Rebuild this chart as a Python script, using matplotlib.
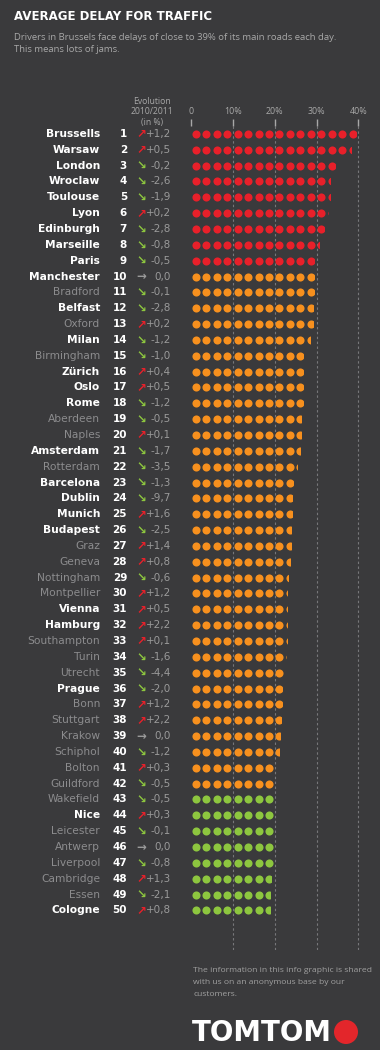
import math
import matplotlib
matplotlib.use("Agg")
import matplotlib.pyplot as plt
from matplotlib.patches import Rectangle, Circle
from matplotlib.transforms import blended_transform_factory

cities = ["Brussells", "Warsaw", "London", "Wroclaw", "Toulouse", "Lyon", "Edinburgh",
          "Marseille", "Paris", "Manchester", "Bradford", "Belfast", "Oxford", "Milan",
          "Birmingham", "Zürich", "Oslo", "Rome", "Aberdeen", "Naples", "Amsterdam",
          "Rotterdam", "Barcelona", "Dublin", "Munich", "Budapest", "Graz", "Geneva",
          "Nottingham", "Montpellier", "Vienna", "Hamburg", "Southampton", "Turin",
          "Utrecht", "Prague", "Bonn", "Stuttgart", "Krakow", "Schiphol", "Bolton",
          "Guildford", "Wakefield", "Nice", "Leicester", "Antwerp", "Liverpool",
          "Cambridge", "Essen", "Cologne"]
delay = [39.4, 38.2, 34.3, 33.2, 33.2, 32.7, 31.8, 30.6, 29.4, 29.4,
         29.4, 29.1, 29.1, 28.3, 26.8, 26.8, 26.8, 26.8, 26.3, 26.3,
         26.0, 25.2, 24.4, 24.2, 24.0, 23.8, 23.8, 23.6, 23.1, 23.0,
         22.8, 22.8, 22.8, 22.6, 22.0, 21.7, 21.7, 21.5, 21.2, 20.9,
         19.9, 19.6, 19.5, 19.5, 19.5, 19.5, 19.5, 19.2, 18.9, 18.9]
evolution = [1.2, 0.5, -0.2, -2.6, -1.9, 0.2, -2.8, -0.8, -0.5, 0.0,
             -0.1, -2.8, 0.2, -1.2, -1.0, 0.4, 0.5, -1.2, -0.5, 0.1,
             -1.7, -3.5, -1.3, -9.7, 1.6, -2.5, 1.4, 0.8, -0.6, 1.2,
             0.5, 2.2, 0.1, -1.6, -4.4, -2.0, 1.2, 2.2, 0.0, -1.2,
             0.3, -0.5, -0.5, 0.3, -0.1, 0.0, -0.8, 1.3, -2.1, 0.8]
highlight = ["Brussells", "Warsaw", "London", "Wroclaw", "Toulouse", "Lyon", "Edinburgh",
             "Marseille", "Paris", "Manchester", "Belfast", "Milan", "Zürich", "Oslo",
             "Rome", "Amsterdam", "Barcelona", "Dublin", "Munich", "Budapest", "Vienna",
             "Hamburg", "Prague", "Nice", "Cologne"]
group_sizes = [9, 33, 8]   # red, orange, green rows
ticks = [0, 10, 20, 30, 40]
tick_labels = ["0", "10%", "20%", "30%", "40%"]

bg = "#3a3a3c"
red = "#e8202a"
orange = "#f7901e"
green = "#8dc63f"
group_colors = [red, orange, green]

W, H = 380, 1050
fig = plt.figure(figsize=(W / 100, H / 100), dpi=100, facecolor=bg)

def fx(px):
    return px / W

def fy(py):
    return 1 - py / H

# dot chart area
ax = fig.add_axes([fx(180), fy(950), fx(372) - fx(180), (950 - 126) / H])
ax.set_facecolor("none")
ax.set_xlim(-2.68, 43.25)
ax.set_ylim(52.5, 0.5)
for s in ax.spines.values():
    s.set_visible(False)
ax.set_yticks([])
ax.xaxis.tick_top()
ax.set_xticks(ticks)
ax.set_xticklabels(tick_labels, family="Open Sans")
ax.tick_params(axis="x", colors="#a8a8a8", labelsize=6.4, length=5, width=1, pad=2)

ax.vlines(ticks[1:], 0.5, 52.5, colors="#77777a", linestyles=(0, (2.2, 2.2)),
          linewidth=0.8, zorder=1)

colors = []
for c, n in zip(group_colors, group_sizes):
    colors += [c] * n

ranks = list(range(1, len(cities) + 1))
for r, v, c in zip(ranks, delay, colors):
    n = math.ceil(v / 2.5)
    xs = [1.1 + 2.5 * k for k in range(n)]
    sc = ax.scatter(xs, [r] * n, s=34, color=c, linewidths=0, zorder=3)
    sc.set_clip_path(Rectangle((-5, r - 0.5), v + 5, 1, transform=ax.transData))

# left columns: name, rank, arrow, evolution
tr = blended_transform_factory(fig.transFigure, ax.transData)
for r, name, ev in zip(ranks, cities, evolution):
    if name in highlight:
        ax.text(fx(100), r, name, transform=tr, ha="right", va="center",
                fontsize=7.7, fontweight="bold", color="white", family="DejaVu Sans")
    else:
        ax.text(fx(100), r, name, transform=tr, ha="right", va="center",
                fontsize=7.7, color="#8c8c8e", family="DejaVu Sans")
    ax.text(fx(127), r, str(r), transform=tr, ha="right", va="center",
            fontsize=7.5, fontweight="bold", color="white", family="DejaVu Sans")
    if ev > 0:
        arrow, acol, txt = "\u2197", red, "+%.1f" % ev
    elif ev < 0:
        arrow, acol, txt = "\u2198", green, "%.1f" % ev
    else:
        arrow, acol, txt = "\u2192", "#9a9a9a", "0.0"
    ax.text(fx(141), r, arrow, transform=tr, ha="center", va="center",
            fontsize=8.5, fontweight="bold", color=acol, family="DejaVu Sans")
    ax.text(fx(171), r, txt.replace(".", ","), transform=tr, ha="right", va="center",
            fontsize=7.5, color="#9a9a9a", family="DejaVu Sans")

# header texts
fig.text(fx(14), fy(16), "AVERAGE DELAY FOR TRAFFIC", ha="left", va="center",
         fontsize=8.5, fontweight="bold", color="white", family="DejaVu Sans")
fig.text(fx(14), fy(37), "Drivers in Brussels face delays of close to 39% of its main roads each day.",
         ha="left", va="center", fontsize=6.8, color="#a8a8a8", family="Open Sans")
fig.text(fx(14), fy(50), "This means lots of jams.", ha="left", va="center",
         fontsize=6.8, color="#a8a8a8", family="Open Sans")
for yy, t in zip([101, 112, 122], ["Evolution", "2010/2011", "(in %)"]):
    fig.text(fx(152), fy(yy), t, ha="center", va="center", fontsize=6.2,
             color="#a8a8a8", family="Open Sans")

# footer
for yy, t in zip([971, 983, 994], ["The information in this info graphic is shared",
                                   "with us on an anonymous base by our",
                                   "customers."]):
    fig.text(fx(193), fy(yy), t, ha="left", va="center", fontsize=6.1,
             color="#a0a0a0", family="Open Sans")
fig.text(fx(192), fy(1033), "TOMTOM", ha="left", va="center", fontsize=20,
         fontweight="bold", color="white", family="DejaVu Sans")
logo = Circle((3.46, (H - 1032) / 100), 0.12, transform=fig.dpi_scale_trans,
              facecolor="#e3262b", edgecolor="none")
fig.patches.append(logo)

fig.savefig("out.png", dpi=100, facecolor=bg)
